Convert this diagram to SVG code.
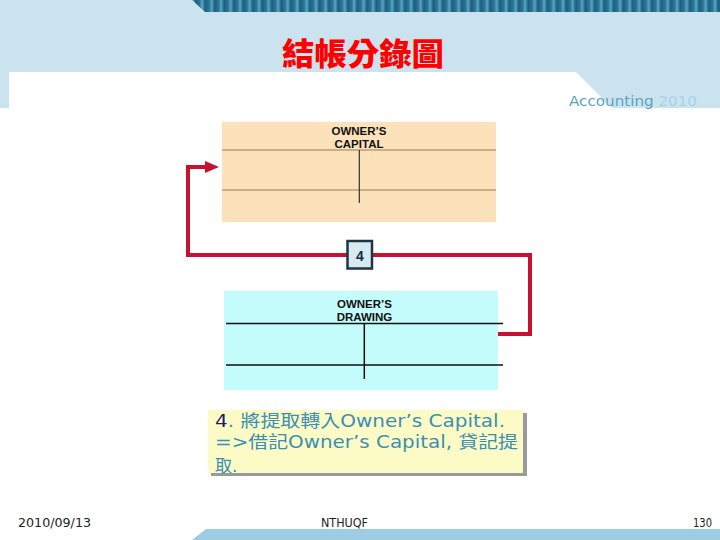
<svg xmlns="http://www.w3.org/2000/svg" width="720" height="540" viewBox="0 0 720 540">
  <defs>
    <linearGradient id="stripeGrad" x1="0" y1="0" x2="1" y2="0">
      <stop offset="0" stop-color="#1f5d7a"/>
      <stop offset="0.45" stop-color="#2d7595"/>
      <stop offset="0.7" stop-color="#56abc9"/>
      <stop offset="1" stop-color="#235f7b"/>
    </linearGradient>
    <pattern id="stripes" x="205" y="0" width="9.5" height="12" patternUnits="userSpaceOnUse">
      <rect width="9.5" height="12" fill="url(#stripeGrad)"/>
    </pattern>
    <marker id="arrow" markerUnits="userSpaceOnUse" markerWidth="16" markerHeight="14" refX="2" refY="7" orient="auto">
      <polygon points="0,1 14,7 0,13" fill="#c5122f"/>
    </marker>
  </defs>
  <style>
    .hdr { font-family: "Liberation Sans", Arial, sans-serif; font-weight: bold; font-size: 11.5px; fill: #111; text-anchor: middle; }
    .foot { font-family: "DejaVu Sans", "Liberation Sans", sans-serif; font-size: 13px; fill: #222; }
    .note { font-family: "DejaVu Sans", "Noto Sans CJK TC", sans-serif; font-size: 17px; fill: #3b8fb5; }
    .conn { fill: none; stroke: #c5122f; stroke-width: 4; stroke-linejoin: miter; }
  </style>

  <!-- background -->
  <rect x="0" y="0" width="720" height="540" fill="#ffffff"/>
  <rect x="0" y="0" width="720" height="72" fill="#cae3ef"/>
  <rect x="0" y="72" width="9" height="36" fill="#cae3ef"/>
  <polygon points="576,72 720,72 720,108 612,108" fill="#cae3ef"/>
  <!-- top striped bar -->
  <polygon points="192,0 720,0 720,12 205,12" fill="url(#stripes)"/>
  <!-- footer bar -->
  <polygon points="206,529 720,529 720,540 192,540" fill="#9dcde2"/>

  <!-- title -->
  <text x="363" y="65" font-family="'Noto Sans CJK TC', 'Noto Sans CJK SC', sans-serif" font-weight="900" font-size="31" fill="#ff0000" text-anchor="middle" textLength="162" lengthAdjust="spacingAndGlyphs">結帳分錄圖</text>
  <text x="569" y="106" font-family="'DejaVu Sans', Verdana, sans-serif" font-size="14.5px" textLength="128" lengthAdjust="spacingAndGlyphs"><tspan fill="#5ba3bf">Accounting</tspan><tspan fill="#a9d2e3"> 2010</tspan></text>

  <!-- Owner's Capital -->
  <g id="owners-capital">
    <rect x="222" y="122" width="274" height="100" fill="#fbe2bb"/>
    <text class="hdr" x="359" y="134.5">OWNER’S</text>
    <text class="hdr" x="359" y="147.5">CAPITAL</text>
    <line x1="222" y1="150" x2="496" y2="150" stroke="#9a7a56" stroke-width="1.2"/>
    <line x1="222" y1="190" x2="496" y2="190" stroke="#9a7a56" stroke-width="1.2"/>
    <line x1="359.3" y1="150" x2="359.3" y2="203" stroke="#333" stroke-width="1.2"/>
  </g>

  <!-- Owner's Drawing -->
  <g id="owners-drawing">
    <rect x="224" y="291" width="274" height="99" fill="#c4fbfb"/>
    <text class="hdr" x="364.5" y="307.5">OWNER’S</text>
    <text class="hdr" x="364.5" y="320.5">DRAWING</text>
    <line x1="226" y1="323.5" x2="503" y2="323.5" stroke="#111" stroke-width="1.5"/>
    <line x1="226" y1="365" x2="503" y2="365" stroke="#111" stroke-width="1.5"/>
    <line x1="364.3" y1="323.5" x2="364.3" y2="379" stroke="#111" stroke-width="1.5"/>
  </g>

  <!-- connectors -->
  <g id="connectors">
    <polyline class="conn" points="498,334 530,334 530,255 188,255 188,167 207,167" marker-end="url(#arrow)"/>
  </g>

  <!-- step label 4 -->
  <g id="label-4">
    <rect x="347.5" y="241" width="24.5" height="27.5" fill="#d6eaf2" stroke="#1d3544" stroke-width="2.5"/>
    <text x="359.8" y="260.5" font-family="'Liberation Sans', Arial, sans-serif" font-weight="bold" font-size="14" fill="#1a2a3a" text-anchor="middle">4</text>
  </g>

  <!-- note box -->
  <g id="note">
    <rect x="211" y="413" width="316" height="63" fill="#9a9a9a"/>
    <rect x="208" y="410" width="315" height="63" fill="#fcfbc6"/>
    <text class="note" x="215" y="427" textLength="290" lengthAdjust="spacingAndGlyphs"><tspan fill="#1c1c6c">4</tspan>. 將提取轉入Owner’s Capital.</text>
    <text class="note" x="215" y="447.5" textLength="303" lengthAdjust="spacingAndGlyphs">=&gt;借記Owner’s Capital, 貸記提</text>
    <text class="note" x="215" y="472">取.</text>
  </g>

  <!-- footer -->
  <text class="foot" x="18" y="527" textLength="73" lengthAdjust="spacingAndGlyphs">2010/09/13</text>
  <text class="foot" x="321" y="527" textLength="47" lengthAdjust="spacingAndGlyphs">NTHUQF</text>
  <text class="foot" x="693" y="527" textLength="19" lengthAdjust="spacingAndGlyphs">130</text>
</svg>
